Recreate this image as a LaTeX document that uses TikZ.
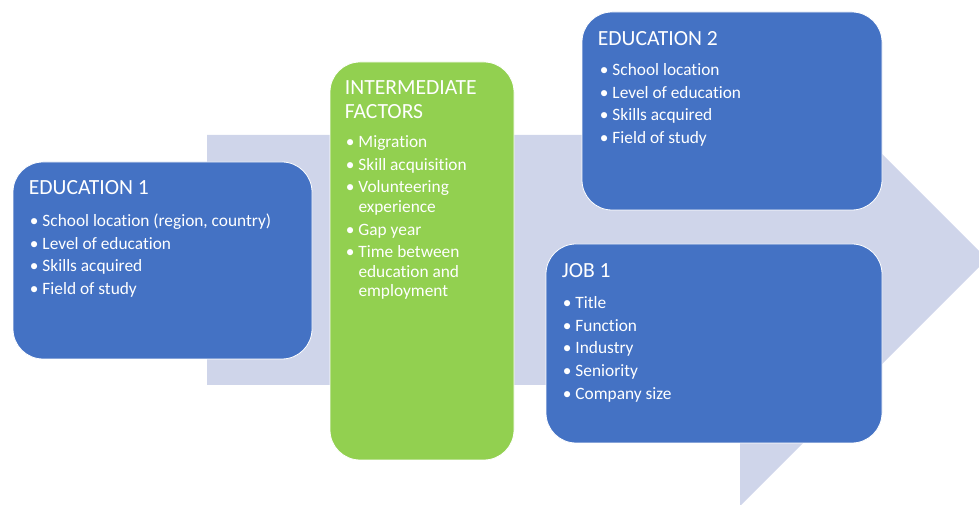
\documentclass[tikz,border=0pt]{standalone}
\usepackage{fontspec}
\setmainfont{Carlito}[Ligatures=NoCommon]
\usetikzlibrary{positioning}

\definecolor{boxblue}{RGB}{68,114,196}
\definecolor{boxgreen}{RGB}{146,208,80}
\definecolor{arrowbg}{RGB}{207,213,234}

\newcommand{\blt}{\textbullet}
\newcommand{\gap}{\\[2.6pt]}

\begin{document}
\begin{tikzpicture}[x=0.75pt, y=-0.75pt,
  box/.style={rounded corners=22.5pt, draw=white, line width=0.6pt, inner sep=0pt},
  ttl/.style={text=white, font=\fontsize{16.2}{18}\selectfont, anchor=base west, inner sep=0pt, align=left},
  lst/.style={text=white, font=\fontsize{13}{14.5}\selectfont, anchor=north west, inner sep=0pt}]

\useasboundingbox (0,0) rectangle (979,505);

% big arrow behind everything
\fill[arrowbg] (207,135) -- (740,135) -- (740,12) -- (987,259) -- (740,506) -- (740,385) -- (207,385) -- cycle;

\node[box, fill=boxblue, minimum width=224.25pt, minimum height=147.75pt] (edu1) at (162.5,260.5) {};
\node[box, fill=boxgreen, minimum width=138pt, minimum height=298.5pt] (inter) at (422,261) {};
\node[box, fill=boxblue, minimum width=225pt, minimum height=148.5pt] (edu2) at (732,111) {};
\node[box, fill=boxblue, minimum width=252pt, minimum height=149.25pt] (job1) at (714,343.5) {};

% titles
\node[ttl] (edu1t) at ([shift={(16,33)}]edu1.north west) {EDUCATION 1};
\node[ttl] (intert) at ([shift={(15,57)}]inter.north west) {INTERMEDIATE\\FACTORS};
\node[ttl] (edu2t) at ([shift={(16,34)}]edu2.north west) {EDUCATION 2};
\node[ttl] (job1t) at ([shift={(16,34)}]job1.north west) {JOB 1};

% bullet lists
\node[lst] (edu1l) at ([shift={(17,51)}]edu1.north west) {%
  \begin{tabular}{@{}l@{\hspace{3pt}}l@{}}
  \blt & School location (region, country)\gap
  \blt & Level of education\gap
  \blt & Skills acquired\gap
  \blt & Field of study
  \end{tabular}};
\node[lst] (interl) at ([shift={(16,72)}]inter.north west) {%
  \begin{tabular}{@{}l@{\hspace{3pt}}l@{}}
  \blt & Migration\gap
  \blt & Skill acquisition\gap
  \blt & Volunteering\\
       & experience\gap
  \blt & Gap year\gap
  \blt & Time between\\
       & education and\\
       & employment
  \end{tabular}};
\node[lst] (edu2l) at ([shift={(18,50)}]edu2.north west) {%
  \begin{tabular}{@{}l@{\hspace{3pt}}l@{}}
  \blt & School location\gap
  \blt & Level of education\gap
  \blt & Skills acquired\gap
  \blt & Field of study
  \end{tabular}};
\node[lst] (job1l) at ([shift={(17,51)}]job1.north west) {%
  \begin{tabular}{@{}l@{\hspace{3pt}}l@{}}
  \blt & Title\gap
  \blt & Function\gap
  \blt & Industry\gap
  \blt & Seniority\gap
  \blt & Company size
  \end{tabular}};

\end{tikzpicture}
\end{document}
